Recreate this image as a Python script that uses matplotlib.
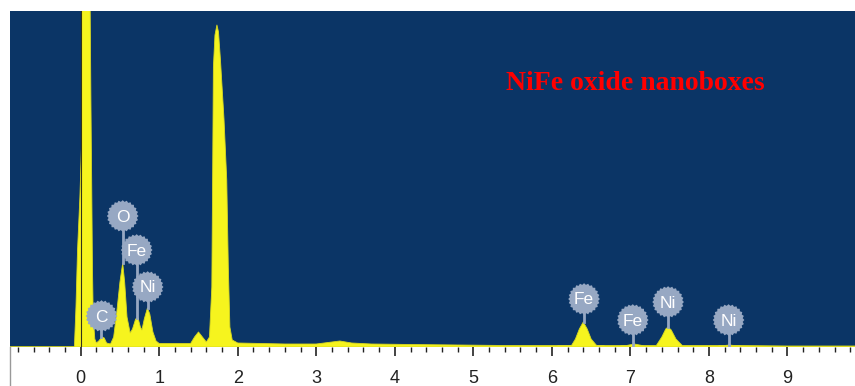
import numpy as np
import matplotlib.pyplot as plt
from matplotlib.path import Path
from matplotlib.lines import Line2D

# spectrum outline (energy in keV, counts in arbitrary units)
energy = [-0.90, -0.08, -0.06, -0.04, -0.01, 0.01, 0.013, 0.06, 0.115, 0.13, 0.14, 0.15, 0.16, 0.18,
          0.20, 0.23, 0.27, 0.30, 0.33, 0.38, 0.42, 0.46, 0.50, 0.535, 0.56, 0.59, 0.63,
          0.66, 0.70, 0.73, 0.76, 0.78, 0.81, 0.85, 0.88, 0.92, 0.96, 1.00, 1.20, 1.40,
          1.45, 1.50, 1.55, 1.60, 1.64, 1.67, 1.68, 1.69, 1.71, 1.735, 1.755, 1.78, 1.825,
          1.86, 1.88, 1.90, 1.93, 2.00, 2.30, 2.60, 3.00, 3.20, 3.30, 3.45, 3.70, 4.20,
          4.80, 5.40, 6.00, 6.25, 6.30, 6.35, 6.40, 6.45, 6.50, 6.57, 6.95, 7.05, 7.15,
          7.33, 7.40, 7.45, 7.48, 7.52, 7.58, 7.66, 8.20, 8.26, 8.32, 9.00, 9.90]
counts = [0, 0, 40, 97, 150, 200, 400, 1500, 400, 250, 167, 80, 30, 8,
          4, 6, 10, 9, 4, 3, 10, 35, 65, 84, 65, 30, 14,
          18, 28, 29, 20, 17, 28, 39, 33, 15, 6, 3.5, 3.5, 3.5,
          10, 15, 10, 5, 10, 60, 167, 280, 312, 322, 315, 287, 228,
          167, 80, 20, 7, 4, 3.5, 3, 3, 5, 6, 4, 3, 2.5,
          2, 1.5, 1.5, 1.5, 8, 18, 25, 18, 8, 1.5, 1.5, 3, 1.5,
          1.5, 10, 18, 20, 17, 8, 1.5, 1.5, 2, 1.5, 1, 1]

# element markers: label, line energy, bubble height, stem bottom
labels = ['C', 'O', 'Fe', 'Ni', 'Fe', 'Fe', 'Ni', 'Ni']
line_e = [0.265, 0.535, 0.713, 0.853, 6.41, 7.03, 7.48, 8.25]
bubble_y = [31, 131, 97, 60, 48, 27, 45, 27]
stem_y = [10, 84, 29, 39, 25, 2, 20, 1]
# baseline bars under the K lines
bar_left = [6.06, 6.87, 7.34, 8.11]
bar_right = [6.67, 7.16, 7.66, 8.39]

bg = '#0b3566'
yellow = '#f6f41e'
bubble = '#97a8c3'

# bubble marker with a little toothed edge
t = np.linspace(0, 2 * np.pi, 49)
r = np.where(np.arange(49) % 2 == 0, 1.0, 0.9)
gear = Path(np.column_stack([r * np.cos(t), r * np.sin(t)]))

fig = plt.figure(figsize=(8.55, 3.86), dpi=100)
ax = fig.add_axes([10 / 855, 39 / 386, 845 / 855, 336 / 386])
ax.set_facecolor(bg)

ax.fill_between(energy, counts, 0, color=yellow, lw=0.6, edgecolor='#d8d820', zorder=2)
ax.axvline(0, color='#333318', lw=0.8, zorder=3)

for l, r_ in zip(bar_left, bar_right):
    ax.plot([l, r_], [1.2, 1.2], color='#c5d49a', lw=2, zorder=1.5, solid_capstyle='butt')

for lab, x, by, sy in zip(labels, line_e, bubble_y, stem_y):
    ax.plot([x, x], [sy, by], color=bubble, lw=2, zorder=4)
    ax.scatter([x], [by], s=520, marker=gear, color=bubble, edgecolors='none', zorder=5)
    ax.text(x, by - 1, lab, color='white', fontsize=12.5, family='Liberation Sans',
            ha='center', va='center', zorder=6)

ax.text(7.06, 263, 'NiFe oxide nanoboxes', color='red', fontsize=20,
        family='Liberation Serif', fontweight='bold', ha='center', va='center')

ax.set_xlim(-0.9, 9.86)
ax.set_ylim(0, 336)
ax.set_xticks(range(10))
ax.set_xticks(np.arange(-0.8, 9.9, 0.2), minor=True)
ax.set_yticks([])
for s in ax.spines.values():
    s.set_visible(False)
ax.tick_params(axis='x', which='major', length=6.5, width=1.2, pad=10, labelsize=13,
               colors='#222222')
ax.tick_params(axis='x', which='minor', length=3.5, width=1.0, colors='#222222')
for lbl in ax.get_xticklabels():
    lbl.set_family('Liberation Sans')

fig.add_artist(Line2D([10 / 855, 10 / 855], [0, 39 / 386], color='#999999', lw=1))

fig.savefig('out.png', dpi=100, facecolor='white')
